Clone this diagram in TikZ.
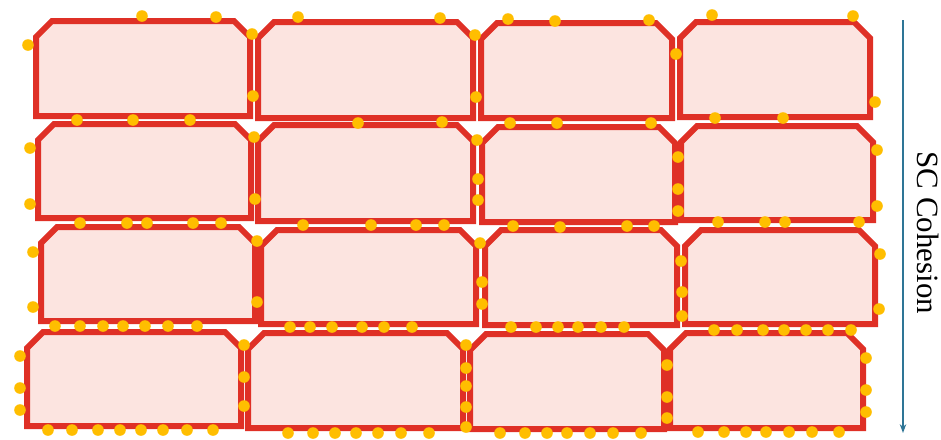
\documentclass[tikz,border=0pt]{standalone}
\usepackage{fontspec}
\setmainfont{Liberation Serif}
\usepackage{tikz}
\usetikzlibrary{arrows.meta}
\definecolor{brick}{RGB}{223,48,38}
\definecolor{blush}{RGB}{252,228,224}
\definecolor{amber}{RGB}{255,190,0}
\definecolor{sea}{RGB}{46,117,150}
\tikzset{
  cell/.style={rectangle,inner sep=0pt,outer sep=0pt},
  rim/.style={draw=brick,fill=blush,line width=1.5mm,line join=miter},
  wh/.style 2 args={minimum width=#1*0.25mm,minimum height=#2*0.25mm},
  dot/.style={fill=amber},
  arr/.style={-{Stealth[length=2.2mm,width=1.6mm]},draw=sea,line width=0.5mm},
}

\begin{document}
\begin{tikzpicture}[x=0.25mm,y=-0.25mm]
  \useasboundingbox (0,0) rectangle (941,439);
  % row 1
  \node[cell,wh={214}{95}] (c11) at (143,68.5){};
  \node[cell,wh={215}{96}] (c12) at (365.5,70){};
  \node[cell,wh={191}{95}] (c13) at (576.5,70.5){};
  \node[cell,wh={190}{95}] (c14) at (775,69.5){};
  % row 2
  \node[cell,wh={213}{94}] (c21) at (144.5,171){};
  \node[cell,wh={215}{96}] (c22) at (365.5,173){};
  \node[cell,wh={193}{95}] (c23) at (578.5,174.5){};
  \node[cell,wh={192}{94}] (c24) at (777,173){};
  % row 3
  \node[cell,wh={214}{94}] (c31) at (148,274){};
  \node[cell,wh={215}{94}] (c32) at (368.5,277){};
  \node[cell,wh={192}{95}] (c33) at (581,277.5){};
  \node[cell,wh={190}{94}] (c34) at (780,277){};
  % row 4
  \node[cell,wh={214}{94}] (c41) at (134,379){};
  \node[cell,wh={215}{95}] (c42) at (355.5,380.5){};
  \node[cell,wh={194}{95}] (c43) at (567,381.5){};
  \node[cell,wh={193}{95}] (c44) at (766.5,380.5){};

  % outlines, top corners cut
  \foreach \c in {c11,c12,c13,c14,c21,c22,c23,c24,c31,c32,c33,c34,c41,c42,c43,c44}
    \draw[rim] ([yshift=-4mm]\c.north west) -- ([xshift=4mm]\c.north west)
      -- ([xshift=-4mm]\c.north east) -- ([yshift=-4mm]\c.north east)
      -- (\c.south east) -- (\c.south west) -- cycle;

  % dots on the borders
  \foreach \x/\y in {28/45,142/16,216/17,252/34,253/96,298/17,440/18,475/35,476/97,
    508/19,555/21,649/20,676/54,712/15,853/16,875/102,
    77/120,133/120,190/120,358/123,442/122,510/123,557/123,651/123,715/118,783/118,
    30/148,30/204,254/137,255/199,477/140,478/179,478/200,678/157,678/189,678/211,877/150,877/206,
    80/223,127/223,147/223,193/223,221/223,303/225,371/225,416/225,444/225,
    513/226,560/227,627/226,654/226,718/222,765/222,785/222,859/222,
    33/252,33/307,257/241,257/302,480/243,482/282,482/304,681/261,682/292,682/316,880/254,879/309,
    55/326,80/326,103/326,123/326,145/326,168/326,197/326,
    290/327,310/327,332/327,362/327,384/327,412/327,
    511/327,536/327,558/327,578/327,601/327,624/327,
    714/330,737/330,763/330,784/330,806/330,828/330,851/330,
    20/356,20/388,20/410,244/345,244/377,244/406,
    466/345,466/368,466/386,466/407,466/427,667/365,667/397,667/418,866/358,866/390,866/412,
    48/430,72/430,98/430,120/430,141/430,163/430,187/430,213/430,
    288/433,313/433,335/433,356/433,378/433,401/433,429/433,
    500/433,525/433,547/433,567/433,590/433,613/433,641/433,
    698/432,724/432,746/432,766/432,789/432,812/432,839/432}
    \fill[dot] (\x,\y) circle[radius=1.45mm];

  % cohesion arrow
  \coordinate (atop) at (903,20);
  \coordinate (abot) at (903,433);
  \draw[arr] (atop) -- (abot);
  \node[rotate=-90,anchor=base,font=\fontsize{22}{26}\selectfont] (lbl) at (917,233){SC Cohesion};
\end{tikzpicture}
\end{document}
